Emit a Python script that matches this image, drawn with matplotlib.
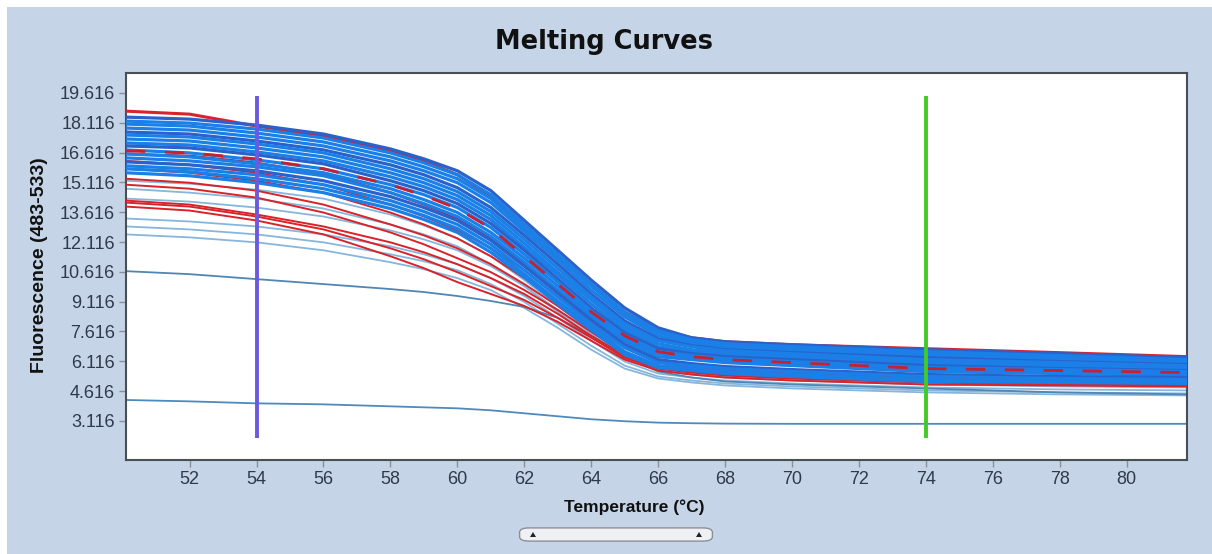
import matplotlib
matplotlib.use("Agg")
import matplotlib.pyplot as plt
from matplotlib.patches import Rectangle, FancyBboxPatch, Polygon

temps = [50.1, 52, 54, 56, 58, 59, 60, 61, 62, 63, 64, 65, 66, 67, 68, 70, 74, 78, 81.8]

# Main bundle (bright blue)
blue_curves = [
    [18.4, 18.3, 18.0, 17.55, 16.8, 16.3, 15.7, 14.7, 13.2, 11.7, 10.2, 8.8, 7.8, 7.3, 7.1, 6.95, 6.7, 6.5, 6.3],
    [18.2, 18.1, 17.8, 17.35, 16.6, 16.1, 15.5, 14.5, 13.0, 11.5, 10.0, 8.6, 7.65, 7.2, 7.0, 6.85, 6.6, 6.4, 6.2],
    [18.05, 17.95, 17.6, 17.15, 16.4, 15.9, 15.3, 14.3, 12.8, 11.35, 9.9, 8.5, 7.55, 7.1, 6.9, 6.75, 6.5, 6.3, 6.15],
    [17.85, 17.75, 17.4, 16.95, 16.2, 15.7, 15.1, 14.1, 12.65, 11.2, 9.7, 8.35, 7.4, 7.0, 6.8, 6.65, 6.4, 6.2, 6.05],
    [17.65, 17.55, 17.2, 16.75, 16.0, 15.5, 14.85, 13.85, 12.45, 11.0, 9.5, 8.15, 7.25, 6.9, 6.7, 6.55, 6.3, 6.1, 5.95],
    [17.5, 17.4, 17.05, 16.6, 15.8, 15.3, 14.65, 13.65, 12.25, 10.8, 9.35, 8.0, 7.15, 6.85, 6.65, 6.5, 6.2, 6.05, 5.9],
    [17.3, 17.2, 16.85, 16.4, 15.6, 15.1, 14.45, 13.45, 12.05, 10.6, 9.2, 7.85, 7.0, 6.7, 6.55, 6.4, 6.1, 5.95, 5.8],
    [17.1, 17.0, 16.65, 16.2, 15.4, 14.9, 14.25, 13.25, 11.85, 10.45, 9.0, 7.7, 6.85, 6.6, 6.45, 6.3, 6.0, 5.85, 5.7],
    [16.95, 16.85, 16.5, 16.05, 15.2, 14.7, 14.05, 13.05, 11.7, 10.25, 8.8, 7.55, 6.75, 6.5, 6.35, 6.2, 5.9, 5.75, 5.65],
    [16.75, 16.6, 16.25, 15.8, 15.0, 14.5, 13.85, 12.85, 11.5, 10.1, 8.65, 7.4, 6.6, 6.4, 6.25, 6.1, 5.8, 5.7, 5.6],
    [16.55, 16.4, 16.05, 15.6, 14.8, 14.25, 13.6, 12.6, 11.3, 9.9, 8.5, 7.25, 6.5, 6.3, 6.15, 6.0, 5.7, 5.6, 5.5],
    [16.35, 16.2, 15.9, 15.45, 14.6, 14.05, 13.4, 12.4, 11.1, 9.7, 8.35, 7.1, 6.35, 6.2, 6.05, 5.9, 5.6, 5.5, 5.4],
    [16.15, 16.0, 15.7, 15.2, 14.4, 13.85, 13.2, 12.2, 10.9, 9.55, 8.2, 6.95, 6.2, 6.0, 5.85, 5.7, 5.45, 5.35, 5.3],
    [15.95, 15.8, 15.5, 15.0, 14.2, 13.65, 13.0, 12.0, 10.7, 9.35, 8.0, 6.8, 6.05, 5.9, 5.75, 5.6, 5.35, 5.25, 5.2],
    [15.8, 15.65, 15.3, 14.8, 14.0, 13.45, 12.8, 11.8, 10.5, 9.15, 7.85, 6.6, 5.9, 5.75, 5.6, 5.45, 5.2, 5.15, 5.1],
    [15.6, 15.45, 15.1, 14.6, 13.8, 13.25, 12.6, 11.6, 10.35, 9.0, 7.7, 6.45, 5.8, 5.65, 5.5, 5.35, 5.1, 5.05, 5.0],
]

# Pale lower-starting curves
pale_curves = [
    [15.2, 15.05, 14.75, 14.3, 13.5, 12.95, 12.3, 11.4, 10.2, 8.9, 7.6, 6.4, 5.75, 5.55, 5.4, 5.25, 5.0, 4.95, 4.9],
    [14.8, 14.6, 14.3, 13.8, 13.0, 12.5, 11.9, 11.0, 9.9, 8.6, 7.35, 6.25, 5.65, 5.45, 5.3, 5.15, 4.95, 4.85, 4.8],
    [14.3, 14.15, 13.85, 13.4, 12.7, 12.25, 11.7, 10.9, 9.9, 8.7, 7.5, 6.35, 5.7, 5.5, 5.35, 5.2, 4.95, 4.9, 4.85],
    [13.3, 13.15, 12.9, 12.5, 11.9, 11.5, 11.0, 10.3, 9.4, 8.3, 7.15, 6.1, 5.5, 5.3, 5.15, 5.0, 4.8, 4.7, 4.65],
    [12.9, 12.75, 12.5, 12.1, 11.5, 11.15, 10.7, 10.0, 9.1, 8.0, 6.9, 5.9, 5.35, 5.15, 5.0, 4.85, 4.65, 4.55, 4.5],
    [12.5, 12.35, 12.1, 11.7, 11.1, 10.75, 10.3, 9.7, 8.8, 7.8, 6.7, 5.75, 5.25, 5.05, 4.9, 4.75, 4.55, 4.45, 4.4],
]

# Red curves (first three sit inside the main bundle)
red_curves = [
    [18.7, 18.55, 17.95, 17.45, 16.7, 16.2, 15.5, 14.4, 13.0, 11.5, 10.0, 8.6, 7.7, 7.3, 7.1, 6.95, 6.75, 6.55, 6.35],
    [16.7, 16.6, 16.3, 15.8, 15.0, 14.45, 13.8, 12.8, 11.4, 10.0, 8.6, 7.4, 6.6, 6.35, 6.2, 6.05, 5.75, 5.65, 5.55],
    [16.55, 16.45, 16.1, 15.55, 14.6, 14.0, 13.3, 12.3, 11.0, 9.7, 8.4, 7.2, 6.5, 6.25, 6.1, 5.95, 5.65, 5.55, 5.45],
    [16.2, 16.0, 15.6, 15.0, 14.0, 13.4, 12.7, 11.8, 10.7, 9.4, 8.1, 6.9, 6.15, 5.9, 5.75, 5.6, 5.4, 5.3, 5.25],
    [15.8, 15.6, 15.2, 14.6, 13.6, 13.0, 12.3, 11.4, 10.3, 9.1, 7.9, 6.8, 6.05, 5.8, 5.65, 5.5, 5.3, 5.2, 5.15],
    [15.3, 15.1, 14.7, 14.0, 13.0, 12.45, 11.8, 11.0, 10.0, 8.9, 7.7, 6.6, 5.9, 5.7, 5.55, 5.4, 5.2, 5.1, 5.05],
    [15.0, 14.8, 14.35, 13.6, 12.6, 12.0, 11.3, 10.6, 9.7, 8.7, 7.6, 6.5, 5.85, 5.65, 5.5, 5.35, 5.15, 5.05, 5.0],
    [14.2, 14.0, 13.5, 12.9, 12.1, 11.6, 11.0, 10.3, 9.5, 8.5, 7.4, 6.4, 5.8, 5.6, 5.45, 5.3, 5.1, 5.0, 4.95],
    [14.1, 13.9, 13.4, 12.75, 11.8, 11.25, 10.6, 9.9, 9.2, 8.3, 7.3, 6.3, 5.75, 5.55, 5.4, 5.25, 5.05, 4.95, 4.9],
    [13.9, 13.7, 13.2, 12.5, 11.4, 10.8, 10.1, 9.5, 8.9, 8.1, 7.15, 6.2, 5.65, 5.45, 5.3, 5.15, 4.95, 4.9, 4.85],
]

# Two outlier curves
mid_curve = [10.65, 10.5, 10.25, 10.0, 9.75, 9.6, 9.4, 9.15, 8.85, 8.3, 7.4, 6.4, 5.6, 5.3, 5.1, 4.95, 4.75, 4.55, 4.45]
low_curve = [4.17, 4.1, 4.0, 3.95, 3.85, 3.8, 3.75, 3.65, 3.5, 3.35, 3.2, 3.1, 3.03, 3.0, 2.98, 2.97, 2.97, 2.97, 2.97]

# Cursor lines
cursor_temps = [54, 74]
cursor_colors = ['#6a5ae0', '#44c82a']

x_ticks = [52, 54, 56, 58, 60, 62, 64, 66, 68, 70, 72, 74, 76, 78, 80]
y_ticks = [3.116, 4.616, 6.116, 7.616, 9.116, 10.616, 12.116, 13.616, 15.116, 16.616, 18.116, 19.616]

W, H = 1212, 554
fig = plt.figure(figsize=(W / 100, H / 100), dpi=100, facecolor='white')
fig.patches.append(Rectangle((7 / W, 0), 1, 1 - 7 / H, transform=fig.transFigure,
                             facecolor='#c5d5e7', edgecolor='none', zorder=-10))

ax = fig.add_axes([126 / W, 1 - 460 / H, (1187 - 126) / W, (460 - 73) / H])
ax.set_zorder(1)
ax.set_facecolor('white')

for c in pale_curves:
    ax.plot(temps, c, color='#86b6dc', lw=1.3, zorder=2)
ax.plot(temps, mid_curve, color='#4f86b4', lw=1.3, zorder=2)
ax.plot(temps, low_curve, color='#4f8abc', lw=1.3, zorder=2)

for c in red_curves[3:]:
    ax.plot(temps, c, color='#d8232a', lw=1.4, zorder=3)
ax.plot(temps, red_curves[0], color='#d8232a', lw=2.2, zorder=3)
ax.plot(temps, red_curves[2], color='#c02030', lw=1.8, zorder=3)

for i, c in enumerate(blue_curves):
    col = '#1a80e8' if i % 4 else '#2a62cc'
    ax.plot(temps, c, color=col, lw=2.3, zorder=4)

ax.plot(temps, red_curves[1], color='#c8202e', lw=2.0, zorder=5, dashes=(7, 7))

for t, col in zip(cursor_temps, cursor_colors):
    ax.plot([t, t], [2.26, 19.47], color=col, lw=2.8, zorder=6, solid_capstyle='butt')

ax.set_xlim(50.1, 81.8)
ax.set_ylim(1.15, 20.62)
ax.set_xticks(x_ticks)
ax.set_yticks(y_ticks)
ax.set_yticklabels([f"{v:.3f}" for v in y_ticks])

for lab in ax.get_xticklabels() + ax.get_yticklabels():
    lab.set_fontfamily(['Liberation Sans', 'DejaVu Sans'])
    lab.set_fontsize(13)
    lab.set_color('#2f3a4c')
ax.tick_params(axis='both', direction='out', length=5, width=1, color='#8a8f98', pad=3)

for s in ax.spines.values():
    s.set_color('#4a4f55')
    s.set_linewidth(1.5)

fig.text(604 / W, 1 - 42 / H, 'Melting Curves', ha='center', va='center',
         fontsize=18.5, fontweight='bold', family='DejaVu Sans', color='#111111')
fig.text(40 / W, 1 - 265 / H, 'Fluorescence (483-533)', ha='center', va='center',
         rotation=90, fontsize=14, fontweight='bold',
         family=['Liberation Sans', 'DejaVu Sans'], color='#111111')
fig.text(634 / W, 1 - 507 / H, 'Temperature (°C)', ha='center', va='center',
         fontsize=12.5, fontweight='bold',
         family=['Liberation Sans', 'DejaVu Sans'], color='#111111')

# scrollbar widget under the axis title
fig.patches.append(FancyBboxPatch((522 / W, 1 - 540 / H), 188 / W, 11 / H,
                                  boxstyle='round,pad=0.002,rounding_size=0.008',
                                  transform=fig.transFigure, facecolor='#eef0f3',
                                  edgecolor='#8a9098', linewidth=1.0, zorder=3))
for cx in (533, 699):
    fig.patches.append(Polygon([((cx - 3) / W, 1 - 537 / H), ((cx + 3) / W, 1 - 537 / H),
                                (cx / W, 1 - 532 / H)], closed=True,
                               transform=fig.transFigure, facecolor='#222222',
                               edgecolor='none', zorder=4))

fig.savefig('out.png', dpi=100, facecolor=fig.get_facecolor())
